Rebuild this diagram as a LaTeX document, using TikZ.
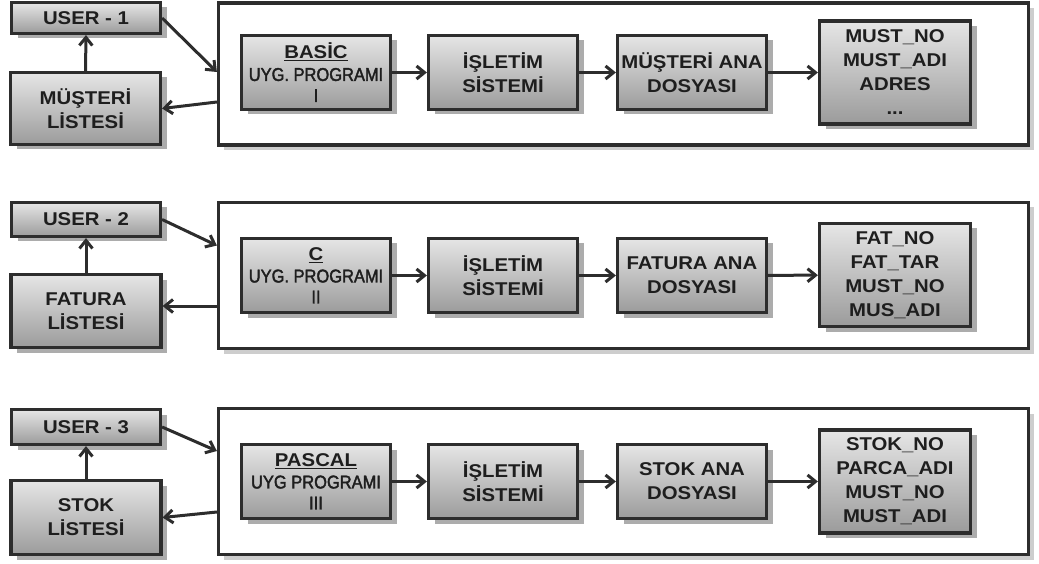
\documentclass[tikz,border=0pt]{standalone}
\usepackage{fontspec}
\setmainfont{Liberation Sans}[FakeStretch=1.1]
\newfontfamily\narrowfont[FakeStretch=0.89,FakeBold=2]{Liberation Sans}
\usetikzlibrary{arrows.meta,shadows}

\definecolor{boxtop}{RGB}{230,230,230}
\definecolor{boxbot}{RGB}{155,155,155}
\definecolor{edge}{RGB}{45,45,45}
\definecolor{ink}{RGB}{30,30,30}
\definecolor{shade}{RGB}{172,172,172}
\definecolor{frameshade}{RGB}{205,205,205}

\newcommand{\prg}[1]{{\narrowfont\mdseries #1}}

\tikzset{
  box/.style={draw=edge, line width=3.2pt, top color=boxtop, bottom color=boxbot,
    align=center, text=ink, inner sep=0pt,
    font=\bfseries\fontsize{18.5}{24}\selectfont,
    drop shadow={shadow xshift=6pt, shadow yshift=-5pt, fill=shade, opacity=1}},
  userbox/.style={box, minimum width=149pt},
  listbox/.style={box, minimum width=150pt},
  stepbox/.style={box, minimum width=149pt, minimum height=74pt},
  fieldbox/.style={box, minimum width=151pt, minimum height=103pt},
  frame/.style={draw=edge, line width=3.2pt, fill=white, inner sep=0pt,
    minimum width=810pt,
    drop shadow={shadow xshift=5pt, shadow yshift=-5pt, fill=frameshade, opacity=1}},
  conn/.style={draw=edge, line width=3pt,
    -{Straight Barb[length=8pt,width=13pt]}}
}

\begin{document}
\begin{tikzpicture}[x=1pt,y=-1pt]
\useasboundingbox (0,0) rectangle (1039,564);

% ---------- row 1: customers ----------
\node[frame, minimum height=142pt] (c1) at (623.5,74) {};
\node[userbox, minimum height=31pt] (u1) at (86,18) {USER - 1};
\node[listbox, minimum height=72pt] (l1) at (85.5,108.5) {MÜŞTERİ\\LİSTESİ};
\node[stepbox] (a1) at (316,72.5) {\underline{BASİC}\\[-2pt]\prg{UYG. PROGRAMI}\\[-3pt]\prg{I}};
\node[stepbox] (b1) at (503,72.5) {İŞLETİM\\SİSTEMİ};
\node[stepbox] (d1) at (692,72.5) {MÜŞTERİ ANA\\DOSYASI};
\node[fieldbox] (e1) at (895,72.5) {MUST\_NO\\MUST\_ADI\\ADRES\\...};

\draw[conn] (u1.east) -- ([yshift=2pt]c1.west);
\draw[conn] ([yshift=-28pt]c1.west) -- (l1.east);
\draw[conn] (l1.north) -- (u1.south);
\draw[conn] (a1) -- (b1);
\draw[conn] (b1) -- (d1);
\draw[conn] (d1) -- (e1);

% ---------- row 2: invoices ----------
\node[frame, minimum height=146pt] (c2) at (623.5,275.5) {};
\node[userbox, minimum height=34pt] (u2) at (86,219.5) {USER - 2};
\node[listbox, minimum height=73pt] (l2) at (86,311) {FATURA\\LİSTESİ};
\node[stepbox] (a2) at (316,275.5) {\underline{C}\\[-2pt]\prg{UYG. PROGRAMI}\\[-3pt]\prg{II}};
\node[stepbox] (b2) at (503,275.5) {İŞLETİM\\SİSTEMİ};
\node[stepbox] (d2) at (692,275.5) {FATURA ANA\\DOSYASI};
\node[fieldbox] (e2) at (895,275) {FAT\_NO\\FAT\_TAR\\MUST\_NO\\MUS\_ADI};

\draw[conn] (u2.east) -- ([yshift=30pt]c2.west);
\draw[conn] ([yshift=-30.5pt]c2.west) -- ([yshift=5pt]l2.east);
\draw[conn] (l2.north) -- (u2.south);
\draw[conn] (a2) -- (b2);
\draw[conn] (b2) -- (d2);
\draw[conn] (d2) -- (e2);

% ---------- row 3: stock ----------
\node[frame, minimum height=146pt] (c3) at (623.5,481.5) {};
\node[userbox, minimum height=35pt] (u3) at (86,427) {USER - 3};
\node[listbox, minimum height=74pt] (l3) at (86,517.5) {STOK\\LİSTESİ};
\node[stepbox] (a3) at (316,481.5) {\underline{PASCAL}\\[-2pt]\prg{UYG PROGRAMI}\\[-3pt]\prg{III}};
\node[stepbox] (b3) at (503,481.5) {İŞLETİM\\SİSTEMİ};
\node[stepbox] (d3) at (692,481.5) {STOK ANA\\DOSYASI};
\node[fieldbox] (e3) at (895,481.5) {STOK\_NO\\PARCA\_ADI\\MUST\_NO\\MUST\_ADI};

\draw[conn] (u3.east) -- ([yshift=30.5pt]c3.west);
\draw[conn] ([yshift=-30.5pt]c3.west) -- (l3.east);
\draw[conn] (l3.north) -- (u3.south);
\draw[conn] (a3) -- (b3);
\draw[conn] (b3) -- (d3);
\draw[conn] (d3) -- (e3);
\end{tikzpicture}
\end{document}
